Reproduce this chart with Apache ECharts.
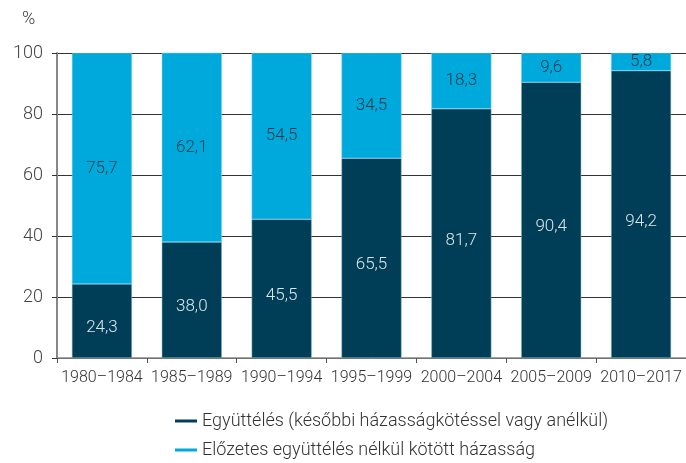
<!DOCTYPE html>
<html>
<head>
<meta charset="utf-8">
<script src="https://cdn.jsdelivr.net/npm/echarts@6/dist/echarts.min.js"></script>
<style>
  html, body { margin: 0; padding: 0; background: #fff; }
  #chart { width: 686px; height: 463px; }
</style>
</head>
<body>
<div id="chart"></div>
<script>
// időszakok
const periods = ["1980–1984", "1985–1989", "1990–1994", "1995–1999", "2000–2004", "2005–2009", "2010–2017"];
// Együttélés (későbbi házasságkötéssel vagy anélkül)
const cohabit = [24.3, 38.0, 45.5, 65.5, 81.7, 90.4, 94.2];
// Előzetes együttélés nélkül kötött házasság
const direct = [75.7, 62.1, 54.5, 34.5, 18.3, 9.6, 5.8];
const yTicks = [0, 20, 40, 60, 80, 100];

const nameDark = "Együttélés (későbbi házasságkötéssel vagy anélkül)";
const nameLight = "Előzetes együttélés nélkül kötött házasság";

const font = "Roboto";
const fmt = (p) => p.value.toFixed(1).replace(".", ",");

const chart = echarts.init(document.getElementById("chart"));

// egy jelmagyarázat-sor
const legendRow = (name, top) => ({
  orient: "vertical",
  left: 170,
  top: top,
  itemWidth: 22,
  itemHeight: 3,
  icon: "rect",
  itemStyle: { borderWidth: 0 },
  textStyle: { fontSize: 18, fontFamily: font, fontWeight: 300, color: "#333" },
  data: [name],
});

const option = {
  backgroundColor: "#fff",
  animation: false,
  grid: { left: 57, right: -7, top: 53, bottom: 105 },
  graphic: [
    {
      type: "text",
      left: 22,
      top: 10,
      style: { text: "%", fontSize: 18, fontFamily: font, fontWeight: 300, fill: "#444" },
    },
  ],
  legend: [legendRow(nameDark, 407), legendRow(nameLight, 436)],
  xAxis: {
    type: "category",
    data: periods,
    axisLine: { lineStyle: { color: "#888", width: 1.5 } },
    axisTick: { show: true, length: 5, lineStyle: { color: "#555" } },
    axisLabel: {
      interval: 0,
      fontSize: 16,
      fontFamily: font,
      fontWeight: 300,
      color: "#333",
      margin: 12,
    },
  },
  yAxis: {
    type: "value",
    min: yTicks[0],
    max: yTicks[yTicks.length - 1],
    interval: 20,
    axisLine: { show: true, lineStyle: { color: "#888", width: 2 } },
    axisTick: { show: true, length: 5, lineStyle: { color: "#333" } },
    axisLabel: { fontSize: 18, fontFamily: font, fontWeight: 300, color: "#444", margin: 14 },
    splitLine: { show: true, lineStyle: { color: "#333", width: 1 } },
  },
  series: [
    {
      name: nameDark,
      type: "bar",
      stack: "total",
      barWidth: 60,
      data: cohabit,
      itemStyle: { color: "#003d56", borderColor: "#7fb9cc", borderWidth: 0.5 },
      label: {
        show: true,
        position: "inside",
        offset: [0, 7],
        formatter: fmt,
        fontSize: 17,
        fontFamily: font,
        fontWeight: 300,
        color: "#dbe6ec",
      },
    },
    {
      name: nameLight,
      type: "bar",
      stack: "total",
      barWidth: 60,
      data: direct,
      itemStyle: { color: "#00a9dc", borderColor: "#7fd0ea", borderWidth: 0.5 },
      label: {
        show: true,
        position: "inside",
        formatter: fmt,
        fontSize: 17,
        fontFamily: font,
        fontWeight: 300,
        color: "#1d3a4a",
      },
    },
  ],
};

chart.setOption(option);
</script>
</body>
</html>
